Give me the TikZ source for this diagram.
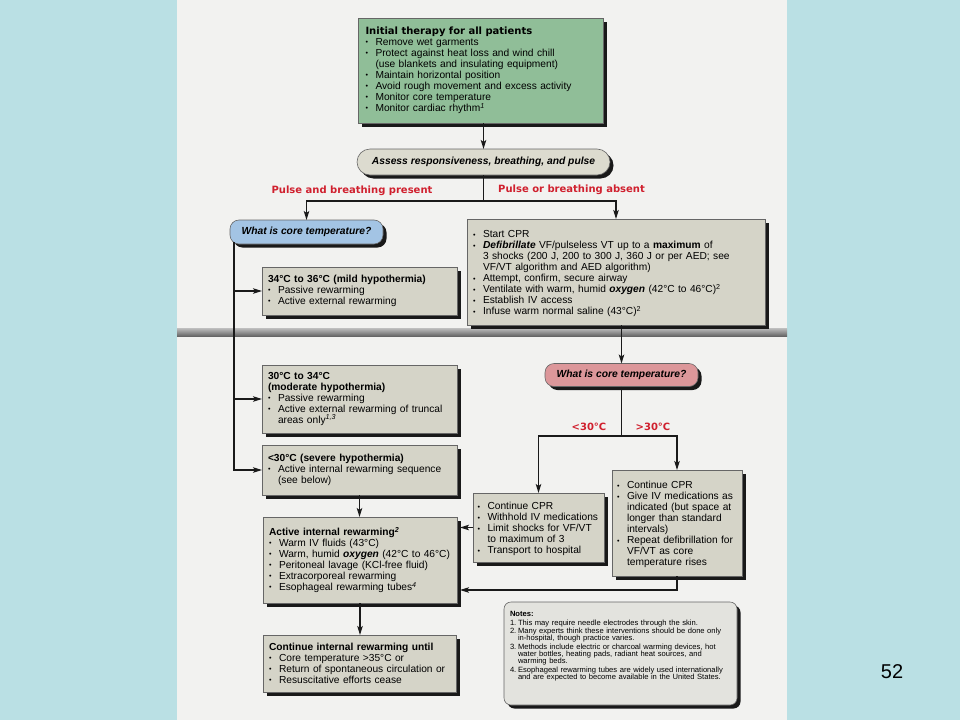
\documentclass[tikz,border=0pt]{standalone}
\usepackage{fontspec}
\setmainfont{Liberation Sans}
\newfontfamily\dejavu{DejaVu Sans}
\usepackage{graphicx}
\usetikzlibrary{shadows,arrows.meta}
\definecolor{bgblue}{HTML}{BAE0E4}
\definecolor{pagecol}{HTML}{F2F2F0}
\definecolor{boxgrey}{HTML}{D5D4C8}
\definecolor{greenfill}{HTML}{90BE98}
\definecolor{bluefill}{HTML}{A3C4E4}
\definecolor{pinkfill}{HTML}{DC979A}
\definecolor{pillgrey}{HTML}{DCDBCF}
\definecolor{notesfill}{HTML}{E3E3DE}
\definecolor{labred}{HTML}{D0202E}
\definecolor{linecol}{HTML}{1A1A1A}
\newcommand{\bu}{\raisebox{0.15ex}{\scalebox{0.7}{\textbullet}}}
\newcommand{\spx}[1]{\textsuperscript{\itshape #1}}
\newcommand{\brk}{\unskip\nobreak\hfil\break}
\newcommand{\itm}{\par\noindent\hangindent=10pt\hangafter=1\makebox[10pt][l]{\bu}}
\newcommand{\nit}[1]{\par\vspace{1.2pt}\noindent\hangindent=8pt\hangafter=1\makebox[8pt][l]{#1}}
\begin{document}
\begin{tikzpicture}[x=1pt,y=-1pt,
  bodyfont/.style={font=\fontsize{10.2}{11}\selectfont},
  shad/.style={drop shadow={shadow xshift=3.5pt,shadow yshift=-3.5pt,fill=black!90,opacity=1}},
  box/.style={shad,draw=black!60,line width=0.6pt,fill=boxgrey,anchor=north west,inner xsep=6pt,inner ysep=2pt,align=left,outer sep=0pt,bodyfont,execute at begin node={\lineskiplimit=-20pt\relax}},
  pill/.style={shad,draw=black!60,line width=0.6pt,inner sep=0pt,outer sep=0pt,font=\fontsize{10.3}{12}\selectfont\bfseries\itshape},
  ln/.style={draw=linecol,line width=1.2pt},
  arr/.style={ln,-{Stealth[length=9pt,width=5.5pt,inset=2pt]}},
  redlab/.style={text=labred,font=\dejavu\bfseries\fontsize{10}{12}\selectfont,inner sep=0pt},
]
\fill[bgblue] (0,0) rectangle (960,720);
\fill[pagecol] (177,0) rectangle (787,720);
\shade[top color=black!25,bottom color=black!60] (177,328) rectangle (787,336);
\useasboundingbox (0,0) rectangle (960,720);

% boxes
\node[box,fill=greenfill,minimum width=245pt,minimum height=105pt,text width=230pt,inner xsep=7.5pt] (init) at (358,18) {%
\noindent{\dejavu\bfseries\fontsize{10}{11}\selectfont Initial therapy for all patients}
\itm Remove wet garments
\itm Protect against heat loss and wind chill\brk (use blankets and insulating equipment)
\itm Maintain horizontal position
\itm Avoid rough movement and excess activity
\itm Monitor core temperature
\itm Monitor cardiac rhythm\spx{1}\par};

\node[pill,fill=pillgrey,minimum width=253pt,minimum height=26pt,rounded corners=13pt] (assess) at (483.5,162) {Assess responsiveness, breathing, and pulse};

\node[redlab] (lp) at (352,191) {Pulse and breathing present};
\node[redlab] (la) at (571.5,190) {Pulse or breathing absent};

\node[pill,fill=bluefill,minimum width=153pt,minimum height=24pt,rounded corners=9pt] (blue) at (306.5,232) {What is core temperature?};

\node[box,minimum width=298pt,minimum height=106pt,text width=286pt] (cpr) at (467,219) {%
\itm Start CPR
\itm \textbf{\textit{Defibrillate}} VF/pulseless VT up to a \textbf{maximum} of\brk 3 shocks (200 J, 200 to 300 J, 360 J or per AED; see\brk VF/VT algorithm and AED algorithm)
\itm Attempt, confirm, secure airway
\itm Ventilate with warm, humid \textbf{\textit{oxygen}} (42°C to 46°C)\textsuperscript{2}
\itm Establish IV access
\itm Infuse warm normal saline (43°C)\textsuperscript{2}\par};

\node[box,minimum width=195pt,minimum height=48pt,text width=183pt] (mild) at (262,267) {%
\noindent\textbf{34°C to 36°C (mild hypothermia)}
\itm Passive rewarming
\itm Active external rewarming\par};

\node[box,minimum width=195pt,minimum height=68pt,text width=183pt] (mod) at (262,365) {%
\noindent\textbf{30°C to 34°C\brk (moderate hypothermia)}
\itm Passive rewarming
\itm Active external rewarming of truncal\brk areas only\spx{1,3}\par};

\node[box,minimum width=195pt,minimum height=50pt,text width=183pt] (sev) at (262,445) {%
\noindent\textbf{<30°C (severe hypothermia)}
\itm Active internal rewarming sequence\brk (see below)\par};

\node[box,minimum width=194pt,minimum height=86pt,text width=182pt] (act) at (263,517) {%
\noindent\textbf{Active internal rewarming\spx{2}}
\itm Warm IV fluids (43°C)
\itm Warm, humid \textbf{\textit{oxygen}} (42°C to 46°C)
\itm Peritoneal lavage (KCl-free fluid)
\itm Extracorporeal rewarming
\itm Esophageal rewarming tubes\spx{4}\par};

\node[box,minimum width=193pt,minimum height=57pt,text width=181pt] (cont) at (263,635) {%
\noindent\textbf{Continue internal rewarming until}
\itm Core temperature >35°C or
\itm Return of spontaneous circulation or
\itm Resuscitative efforts cease\par};

\node[pill,fill=pinkfill,minimum width=153pt,minimum height=23pt,rounded corners=9pt] (pink) at (621.5,375) {What is core temperature?};

\node[redlab] (lt1) at (589,427) {<30°C};
\node[redlab] (lt2) at (653,427) {>30°C};

\node[box,minimum width=131pt,minimum height=69pt,text width=122pt,inner xsep=4.5pt] (cpr2) at (473,493) {%
\itm Continue CPR
\itm Withhold IV medications
\itm Limit shocks for VF/VT\brk to maximum of 3
\itm Transport to hospital\par};

\node[box,minimum width=130pt,minimum height=106pt,text width=120pt,inner xsep=5pt] (cpr3) at (612,470) {%
\itm Continue CPR
\itm Give IV medications as\brk indicated (but space at\brk longer than standard\brk intervals)
\itm Repeat defibrillation for\brk VF/VT as core\brk temperature rises\par};

\node[box,fill=notesfill,rounded corners=7pt,minimum width=233pt,minimum height=103pt,text width=221pt,inner xsep=6pt,font=\fontsize{7.6}{7.2}\selectfont] (notes) at (504,602) {%
\noindent\textbf{Notes:}
\nit{1.}This may require needle electrodes through the skin.
\nit{2.}Many experts think these interventions should be done only\brk in-hospital, though practice varies.
\nit{3.}Methods include electric or charcoal warming devices, hot\brk water bottles, heating pads, radiant heat sources, and\brk warming beds.
\nit{4.}Esophageal rewarming tubes are widely used internationally\brk and are expected to become available in the United States.\par
\vspace{9pt}\noindent\rule{0pt}{1pt}\par};

\node[font=\fontsize{20}{24}\selectfont] (pgnum) at (892,672) {52};

% connectors
\draw[arr] (init.south -| assess.north) -- (assess.north);
\coordinate (b1) at (483.5,201);
\draw[ln] (assess.south) -- (b1);
\draw[arr] (b1) -| (blue.north);
\draw[arr] (b1) -| (cpr.north);

\coordinate (v0) at (234,242);
\draw[arr] (v0) |- (sev.west);
\draw[arr] (v0 |- mild.west) -- (mild.west);
\draw[arr] (v0 |- mod.west) -- (mod.west);

\draw[arr] (sev.south) -- (sev.south |- act.north);
\draw[arr] (act.south) -- (act.south |- cont.north);

\draw[arr] (cpr.south -| pink.north) -- (pink.north);
\coordinate (b2) at (621.5,436);
\draw[ln] (pink.south) -- (b2);
\draw[arr] (b2) -| (cpr2.north);
\draw[arr] (b2) -| (cpr3.north);
\draw[arr,shorten >=3pt] (cpr2.west) -- (cpr2.west -| act.east);
\coordinate (c3) at (677,590);
\draw[arr,shorten >=3pt] (cpr3.south) -- (c3) -- (c3 -| act.east);
\end{tikzpicture}
\end{document}
